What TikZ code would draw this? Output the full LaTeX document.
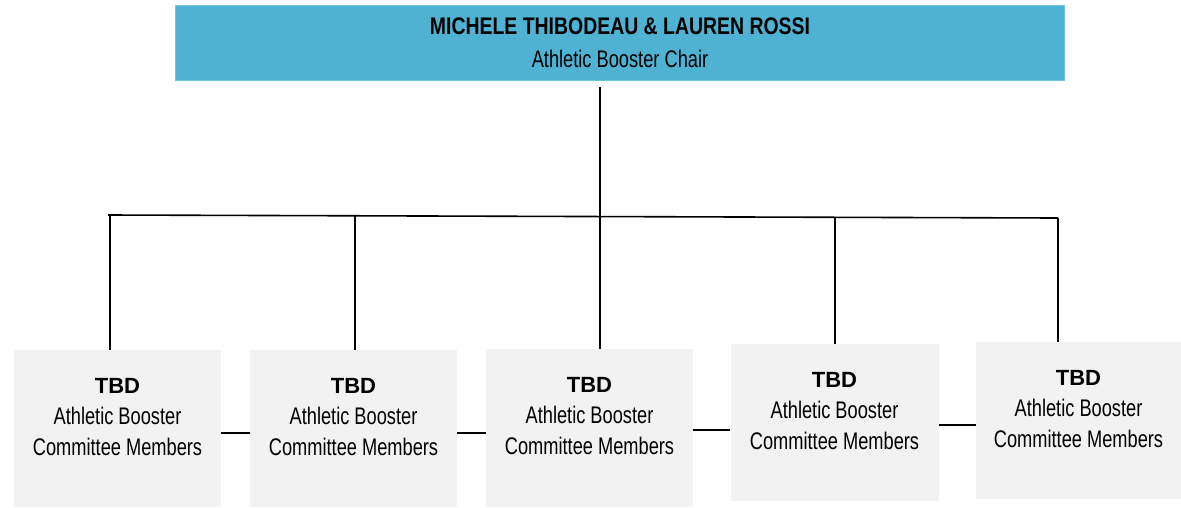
\documentclass[tikz,border=0pt]{standalone}
\usepackage{fontspec}
\setmainfont{Liberation Sans}
\newfontfamily\cond[FakeStretch=0.76]{Liberation Sans}
\newfontfamily\condtitle[FakeStretch=0.81]{Liberation Sans}
\definecolor{chairblue}{RGB}{79,178,211}
\definecolor{chairedge}{RGB}{112,196,222}
\definecolor{memgray}{RGB}{242,242,242}
\tikzset{
  chairbox/.style={fill=chairblue, draw=chairedge, line width=1pt, minimum width=889pt, minimum height=75pt, align=center, font=\fontsize{24}{33}\selectfont},
  memberbox/.style={fill=memgray, minimum width=207pt, minimum height=157pt},
  membertext/.style={align=center, font=\fontsize{24}{31}\selectfont},
  link/.style={line width=1.6pt}
}
\begin{document}
\begin{tikzpicture}[x=1pt,y=-1pt]
\useasboundingbox (0,0) rectangle (1181,507);
\node[chairbox] (chair) at (620,43) {{\condtitle\bfseries MICHELE THIBODEAU \& LAUREN ROSSI}\\{\cond Athletic Booster Chair}};
\node[memberbox] (m1) at (117.5,428.5) {};
\node[memberbox] (m2) at (353.5,428.5) {};
\node[memberbox, minimum height=158pt] (m3) at (589.5,428) {};
\node[memberbox, minimum width=208pt] (m4) at (834.5,422.5) {};
\node[memberbox, minimum width=205pt] (m5) at (1078.5,420.5) {};
\node[membertext] (t1) at ([yshift=-67pt]m1.north) {{\fontsize{22}{31}\selectfont\bfseries TBD}\\{\cond Athletic Booster}\\{\cond Committee Members}};
\node[membertext] (t2) at ([yshift=-67pt]m2.north) {{\fontsize{22}{31}\selectfont\bfseries TBD}\\{\cond Athletic Booster}\\{\cond Committee Members}};
\node[membertext] (t3) at ([yshift=-67pt]m3.north) {{\fontsize{22}{31}\selectfont\bfseries TBD}\\{\cond Athletic Booster}\\{\cond Committee Members}};
\node[membertext] (t4) at ([yshift=-67pt]m4.north) {{\fontsize{22}{31}\selectfont\bfseries TBD}\\{\cond Athletic Booster}\\{\cond Committee Members}};
\node[membertext] (t5) at ([yshift=-67pt]m5.north) {{\fontsize{22}{31}\selectfont\bfseries TBD}\\{\cond Athletic Booster}\\{\cond Committee Members}};
\coordinate (d1) at (108,215);
\coordinate (d2) at (355,215.8);
\coordinate (d3) at (600,216.5);
\coordinate (d4) at (835,217.3);
\coordinate (d5) at (1058,218);
\draw[link, shorten <=6pt] (chair.south -| d3) -- (d3);
\draw[link] (d1) -- (d5);
\draw[link] ([xshift=2pt]d1) -- ([xshift=2pt]d1 |- m1.north);
\draw[link] (d2) -- (d2 |- m2.north);
\draw[link] (d3) -- (d3 |- m3.north);
\draw[link] (d4) -- (d4 |- m4.north);
\draw[link] (d5) -- (d5 |- m5.north);
\draw[link] (m1.east |- 0,433) -- (m2.west |- 0,433);
\draw[link] (m2.east |- 0,433) -- (m3.west |- 0,433);
\draw[link] (m3.east |- 0,430) -- (m4.west |- 0,430);
\draw[link] (m4.east |- 0,425) -- (m5.west |- 0,425);
\end{tikzpicture}
\end{document}
